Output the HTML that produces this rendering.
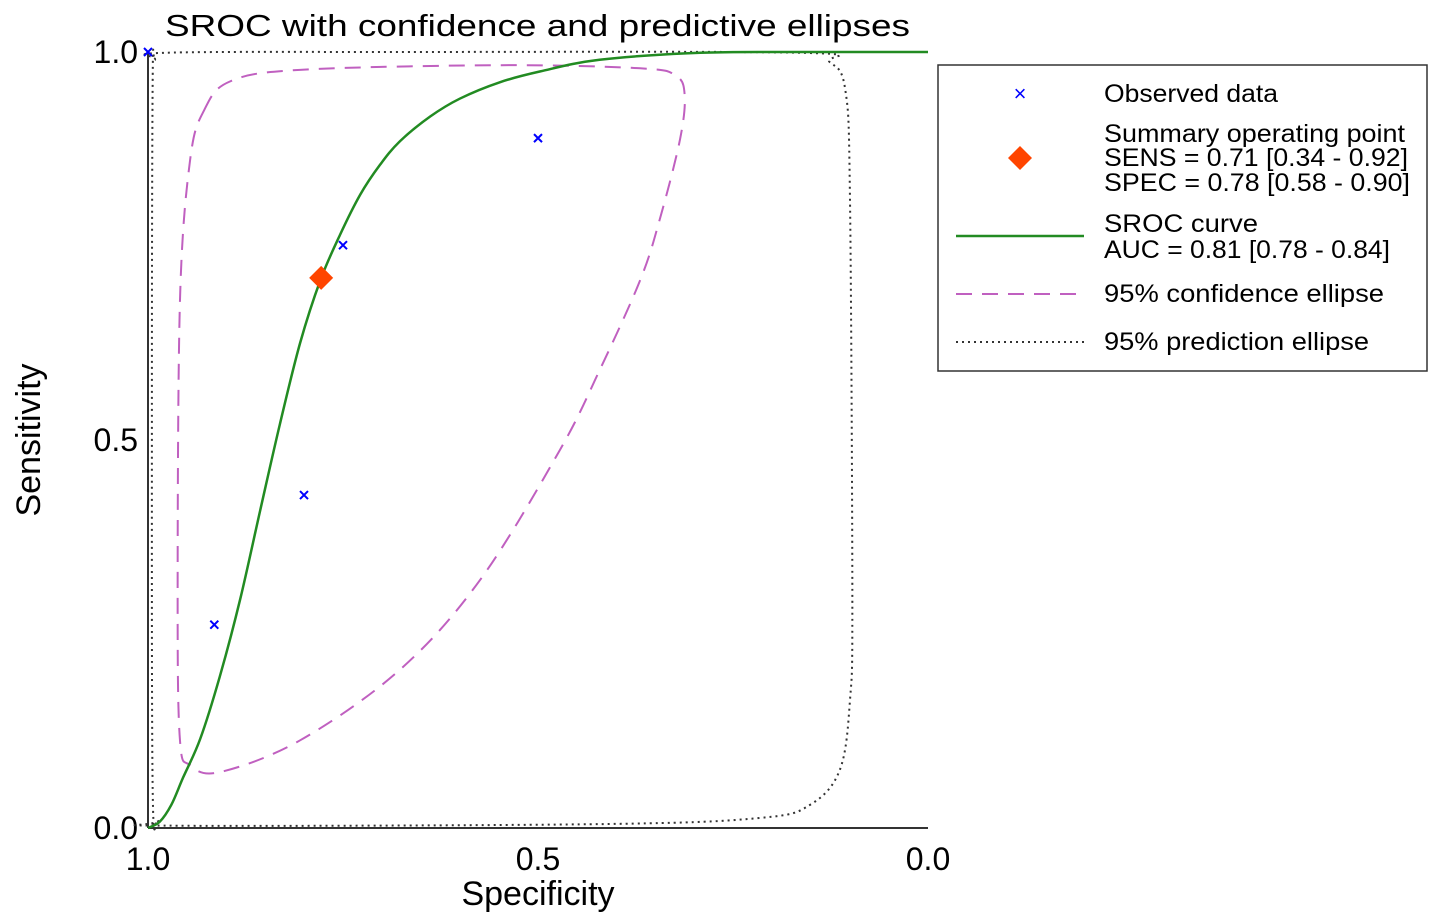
<!DOCTYPE html>
<html><head><meta charset="utf-8"><style>
body{margin:0;background:#fff}
svg text{font-family:"Liberation Sans",Arial,sans-serif;fill:#000}
</style></head><body>
<svg id="chart" width="1441" height="918" xmlns="http://www.w3.org/2000/svg">
<rect width="1441" height="918" fill="#fff"/>
<text x="165" y="36" font-size="31" textLength="745" lengthAdjust="spacingAndGlyphs">SROC with  confidence and predictive ellipses</text>
<g id="axes"></g>
<g id="plot"></g>
<g>
<rect x="938" y="65" width="489" height="306" fill="#fff" stroke="#333" stroke-width="1.5"/>
<text x="1020" y="101" font-size="22" style="fill:#00f" text-anchor="middle">×</text>
<text x="1104" y="102" font-size="25" textLength="174" lengthAdjust="spacingAndGlyphs">Observed data</text>
<path d="M1020,146 L1032,158 L1020,170 L1008,158 Z" fill="#ff4500"/>
<text x="1104" y="142" font-size="25" textLength="301" lengthAdjust="spacingAndGlyphs">Summary  operating  point</text>
<text x="1104" y="166" font-size="25" textLength="304" lengthAdjust="spacingAndGlyphs">SENS = 0.71 [0.34 - 0.92]</text>
<text x="1104" y="191" font-size="25" textLength="306" lengthAdjust="spacingAndGlyphs">SPEC = 0.78 [0.58 - 0.90]</text>
<line x1="956" y1="236" x2="1084" y2="236" stroke="#228b22" stroke-width="2.5"/>
<text x="1104" y="232" font-size="25" textLength="154" lengthAdjust="spacingAndGlyphs">SROC  curve</text>
<text x="1104" y="258" font-size="25" textLength="286" lengthAdjust="spacingAndGlyphs">AUC = 0.81 [0.78 - 0.84]</text>
<line x1="956" y1="294" x2="1084" y2="294" stroke="#c060c0" stroke-width="2" stroke-dasharray="16,10"/>
<text x="1104" y="302" font-size="25" textLength="280" lengthAdjust="spacingAndGlyphs">95%  confidence ellipse</text>
<line x1="956" y1="342" x2="1084" y2="342" stroke="#333" stroke-width="2" stroke-dasharray="2,4"/>
<text x="1104" y="350" font-size="25" textLength="265" lengthAdjust="spacingAndGlyphs">95% prediction ellipse</text>
</g>
</svg>
<script>
const xTicks=[1.0,0.5,0.0];
const xTickLabels=["1.0","0.5","0.0"];
const yTicks=[0.0,0.5,1.0];
const yTickLabels=["0.0","0.5","1.0"];
const obsSpec=[1.0,0.5,0.75,0.80,0.915];
const obsSens=[1.0,0.889,0.751,0.429,0.262];
const sumSpec=[0.778];
const sumSens=[0.709];
const srocSpec=[1.0,0.985,0.970,0.955,0.933,0.908,0.882,0.856,0.831,0.805,0.779,0.754,0.728,0.703,0.677,0.638,0.600,0.549,0.497,0.421,0.292,0.164,0];
const srocSens=[0,0.008,0.030,0.065,0.115,0.195,0.294,0.410,0.520,0.625,0.706,0.764,0.816,0.854,0.885,0.917,0.940,0.961,0.975,0.990,0.999,1.0,1.0];
const confSpec=[0.928,0.895,0.805,0.549,0.369,0.324,0.312,0.318,0.344,0.369,0.421,0.472,0.574,0.677,0.805,0.908,0.946,0.959,0.962,0.959,0.946];
const confSens=[0.925,0.962,0.977,0.983,0.979,0.970,0.945,0.887,0.784,0.706,0.590,0.487,0.320,0.204,0.113,0.072,0.081,0.113,0.294,0.680,0.861];
const predSpec=[0.991,0.978,0.677,0.164,0.126,0.106,0.100,0.097,0.100,0.113,0.151,0.215,0.421,0.972,0.987,0.994,0.995,0.994];
const predSens=[0.990,0.999,1.0,0.999,0.987,0.951,0.809,0.294,0.165,0.075,0.030,0.013,0.005,0.003,0.010,0.049,0.552,0.964];

const X=v=>148+(1-v)*780;
const Y=v=>828-v*776;
const NS="http://www.w3.org/2000/svg";
function mk(tag,attrs,parent){const e=document.createElementNS(NS,tag);for(const k in attrs)e.setAttribute(k,attrs[k]);parent.appendChild(e);return e;}
function smooth(xs,ys,closed){
  const p=xs.map((x,i)=>[X(x),Y(ys[i])]);const n=p.length;
  const g=i=>closed?p[(i+n)%n]:p[Math.max(0,Math.min(n-1,i))];
  let d=`M${p[0][0]},${p[0][1]}`;const m=closed?n:n-1;
  for(let i=0;i<m;i++){const p0=g(i-1),p1=g(i),p2=g(i+1),p3=g(i+2);
    d+=` C${p1[0]+(p2[0]-p0[0])/6},${p1[1]+(p2[1]-p0[1])/6} ${p2[0]-(p3[0]-p1[0])/6},${p2[1]-(p3[1]-p1[1])/6} ${p2[0]},${p2[1]}`;}
  return d+(closed?"Z":"");
}
const axes=document.getElementById('axes');const plot=document.getElementById('plot');
let a=mk('line',{x1:148,y1:Y(1),x2:148,y2:828,stroke:'#333','stroke-width':2},axes);


a=mk('line',{x1:148,y1:828,x2:X(0),y2:828,stroke:'#333','stroke-width':2},axes);


xTicks.forEach((v,i)=>{const t=mk('text',{x:X(v),y:870,'font-size':32,'text-anchor':'middle'},axes);t.textContent=xTickLabels[i];

});
yTicks.forEach((v,i)=>{const t=mk('text',{x:138,y:Y(v)+11,'font-size':32,'text-anchor':'end'},axes);t.textContent=yTickLabels[i];

});
let t=mk('text',{x:538,y:905,'font-size':34,'text-anchor':'middle'},axes);t.textContent='Specificity';


t=mk('text',{x:40,y:440,'font-size':34,'text-anchor':'middle',transform:'rotate(-90 40 440)'},axes);t.textContent='Sensitivity';



let p=mk('path',{d:smooth(predSpec,predSens,true),fill:'none',stroke:'#333','stroke-width':2,'stroke-dasharray':'2,4'},plot);


p=mk('path',{d:smooth(confSpec,confSens,true),fill:'none',stroke:'#c060c0','stroke-width':2,'stroke-dasharray':'16,10'},plot);


p=mk('path',{d:smooth(srocSpec,srocSens,false),fill:'none',stroke:'#228b22','stroke-width':2.5},plot);


obsSpec.forEach((v,i)=>{const cx=X(v),cy=Y(obsSens[i]);
  const e=mk('path',{d:`M${cx-4},${cy-4}L${cx+4},${cy+4}M${cx-4},${cy+4}L${cx+4},${cy-4}`,stroke:'#0000ff','stroke-width':2},plot);
  
  });
sumSpec.forEach((v,i)=>{const cx=X(v),cy=Y(sumSens[i]);
  const e=mk('path',{d:`M${cx},${cy-12}L${cx+12},${cy}L${cx},${cy+12}L${cx-12},${cy}Z`,fill:'#ff4500'},plot);
  
  });
</script>
</body></html>
